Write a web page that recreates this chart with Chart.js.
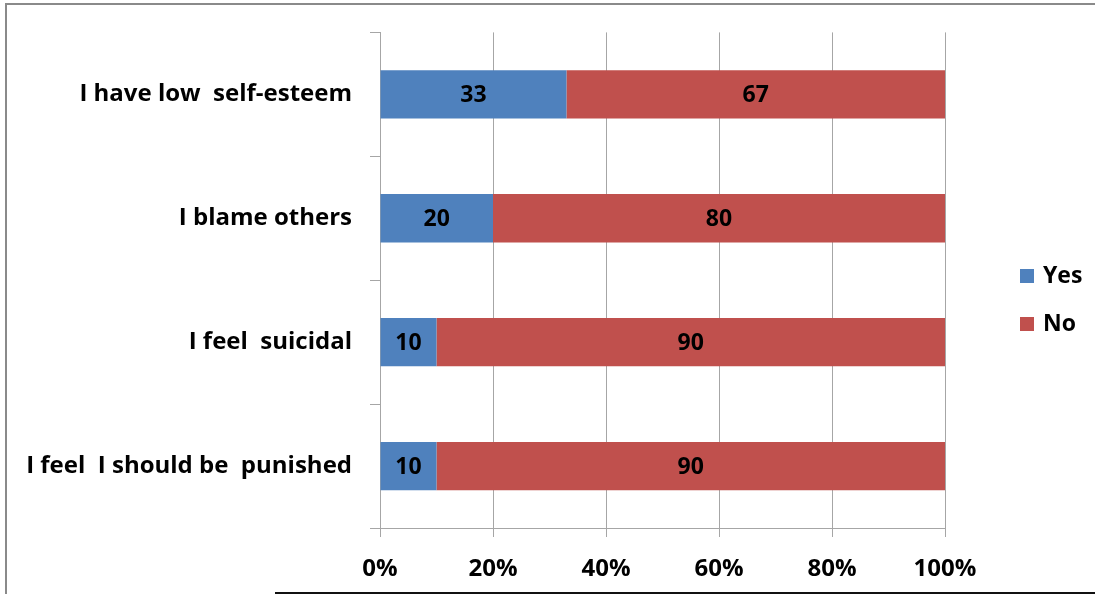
<!DOCTYPE html>
<html>
<head>
<meta charset="utf-8">
<script src="https://cdn.jsdelivr.net/npm/chart.js@4"></script>
<style>
    html, body { margin: 0; padding: 0; background: #fff; }
    #wrap { position: relative; width: 1095px; height: 594px; overflow: hidden; }
    #frameTop { position: absolute; left: 5px; top: 3px; width: 1090px; height: 2px; background: #8a8a8a; }
    #frameLeft { position: absolute; left: 5px; top: 3px; width: 2px; height: 591px; background: #8a8a8a; }
    #frameBottom { position: absolute; left: 275px; top: 592px; width: 820px; height: 2px; background: #111; }
</style>
</head>
<body>
<div id="wrap">
    <canvas id="chart" width="1095" height="594"></canvas>
    <div id="frameTop"></div>
    <div id="frameLeft"></div>
    <div id="frameBottom"></div>
</div>
<script>
// categories and series (percent of respondents)
const categories = ['I have low  self-esteem', 'I blame others', 'I feel  suicidal', 'I feel  I should be  punished'];
const yesValues = [33, 20, 10, 10];
const noValues = [67, 80, 90, 90];
const xTicks = [0, 20, 40, 60, 80, 100];

const FONT = '"Open Sans", Lato, sans-serif';
const SIZE = 24;

// value text in the middle of each bar segment
const barLabels = {
    id: 'barLabels',
    afterDatasetsDraw(chart) {
        const ctx = chart.ctx;
        ctx.save();
        ctx.font = 'bold 23px ' + FONT;
        ctx.fillStyle = '#000';
        ctx.textAlign = 'center';
        ctx.textBaseline = 'middle';
        chart.data.datasets.forEach((ds, i) => {
            chart.getDatasetMeta(i).data.forEach((bar, j) => {
                const mid = (bar.x + bar.base) / 2;
                ctx.fillText(String(ds.data[j]), mid, bar.y + 1);
            });
        });
        ctx.restore();
    }
};

// legend to the right of the plot, like the office chart
const sideLegend = {
    id: 'sideLegend',
    afterDraw(chart) {
        const ctx = chart.ctx;
        const x = chart.chartArea.right + 75;
        ctx.save();
        ctx.font = 'bold 23px ' + FONT;
        ctx.textBaseline = 'middle';
        chart.data.datasets.forEach((ds, i) => {
            const y = 276 + i * 48;
            ctx.fillStyle = ds.backgroundColor;
            ctx.fillRect(x, y - 7, 14, 14);
            ctx.fillStyle = '#000';
            ctx.fillText(ds.label, x + 23, y);
        });
        ctx.restore();
    }
};

new Chart(document.getElementById('chart'), {
    type: 'bar',
    data: {
        labels: categories,
        datasets: [
            { label: 'Yes', data: yesValues, backgroundColor: '#4f81bd', barPercentage: 1, categoryPercentage: 0.39 },
            { label: 'No', data: noValues, backgroundColor: '#c0504d', barPercentage: 1, categoryPercentage: 0.39 }
        ]
    },
    options: {
        indexAxis: 'y',
        responsive: false,
        animation: false,
        layout: { padding: { top: 30, right: 150, left: 0, bottom: 0 } },
        plugins: {
            legend: { display: false },
            tooltip: { enabled: false }
        },
        scales: {
            x: {
                stacked: true,
                min: 0,
                max: 100,
                afterBuildTicks: (axis) => { axis.ticks = xTicks.map(v => ({ value: v })); },
                afterFit: (axis) => { axis.height = 66; },
                ticks: {
                    color: '#000',
                    font: { family: FONT, size: SIZE, weight: 'bold' },
                    padding: 18,
                    callback: (v) => v + '%'
                },
                grid: { color: '#a6a6a6', lineWidth: 1, tickLength: 9 },
                border: { color: '#a6a6a6' }
            },
            y: {
                stacked: true,
                afterFit: (axis) => { axis.width = 380; },
                ticks: {
                    color: '#000',
                    font: { family: FONT, size: SIZE, weight: 'bold' },
                    padding: 18
                },
                grid: { offset: true, drawOnChartArea: false, color: '#a6a6a6', tickLength: 10 },
                border: { color: '#a6a6a6' }
            }
        }
    },
    plugins: [barLabels, sideLegend]
});
</script>
</body>
</html>
